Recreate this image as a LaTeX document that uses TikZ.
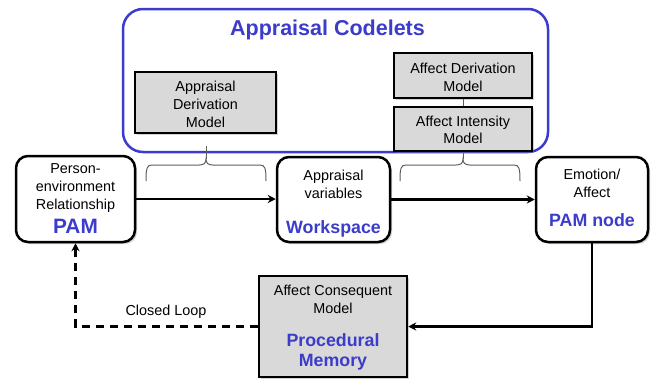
\documentclass[tikz,border=0pt]{standalone}
\usepackage{fontspec}
\setmainfont{Liberation Sans}
\usetikzlibrary{arrows.meta,shadows}
\definecolor{cblue}{RGB}{60,60,204}
\definecolor{boxgray}{RGB}{217,217,217}
\definecolor{bracegray}{RGB}{95,95,95}
\begin{document}
\begin{tikzpicture}[x=1pt,y=-1pt,
  txt/.style={font=\fontsize{14.4}{17}\selectfont, anchor=base, inner sep=0pt},
  btxt/.style={font=\fontsize{17.8}{21}\selectfont\bfseries, text=cblue, anchor=base, inner sep=0pt},
  shad/.style={drop shadow={shadow xshift=2pt,shadow yshift=-2pt,opacity=0.35}},
  rbox/.style={draw=black, line width=2.5pt, fill=white, rounded corners=12pt, inner sep=0pt, shad},
  gbox/.style={draw=black, line width=2.5pt, fill=boxgray, inner sep=0pt, shad},
  conn/.style={line width=2.2pt, -{Stealth[length=8pt,width=8pt]}},
  bracestyle/.style={draw=bracegray, line width=1pt},
]
\useasboundingbox (0,0) rectangle (653,378);
\fill[white] (0,0) rectangle (653,378);

% big codelets container
\node[draw=cblue, line width=2.5pt, rounded corners=20pt, minimum width=425pt, minimum height=143pt, inner sep=0pt] (codelets) at (335.5,80.5) {};
\node[font=\fontsize{21.5}{25}\selectfont\bfseries, text=cblue, anchor=base, inner sep=0pt] (title) at (327.5,35) {Appraisal Codelets};

% gray model boxes
\node[gbox, minimum width=141pt, minimum height=61pt] (adm) at (205.5,102.5) {};
\node[txt] (adm1) at (205.5,91) {Appraisal};
\node[txt] (adm2) at (205.5,109) {Derivation};
\node[txt] (adm3) at (205.5,127) {Model};

\node[gbox, minimum width=138pt, minimum height=45pt] (aderm) at (463,75.5) {};
\node[txt] (aderm1) at (463,73) {Affect Derivation};
\node[txt] (aderm2) at (463,91) {Model};

\node[gbox, minimum width=138pt, minimum height=44pt] (aim) at (463,129) {};
\node[txt] (aim1) at (463,126) {Affect Intensity};
\node[txt] (aim2) at (463,143) {Model};

\draw[draw=bracegray, line width=1pt] (aderm.south) -- (aim.north);

% rounded boxes
\node[rbox, minimum width=119pt, minimum height=86pt] (pam) at (75.5,199) {};
\node[txt] (pam1) at (75.5,173) {Person-};
\node[txt] (pam2) at (75.5,191) {environment};
\node[txt] (pam3) at (75.5,209) {Relationship};
\node[btxt, font=\fontsize{20.8}{24}\selectfont\bfseries] (pam4) at (75.5,233) {PAM};

\node[rbox, minimum width=113pt, minimum height=85pt] (ws) at (333.5,199.5) {};
\node[txt] (ws1) at (333.5,180) {Appraisal};
\node[txt] (ws2) at (333.5,198) {variables};
\node[btxt] (ws3) at (333.5,233) {Workspace};

\node[rbox, minimum width=112pt, minimum height=85pt] (emo) at (592,199.5) {};
\node[txt] (emo1) at (592,179) {Emotion/};
\node[txt] (emo2) at (592,197) {Affect};
\node[btxt] (emo3) at (592,226) {PAM node};

% procedural memory
\node[gbox, minimum width=148pt, minimum height=101pt] (proc) at (333,326.5) {};
\node[txt] (proc1) at (333,295) {Affect Consequent};
\node[txt] (proc2) at (333,313) {Model};
\node[btxt] (proc3) at (333,346) {Procedural};
\node[btxt] (proc4) at (333,366) {Memory};

% braces
\coordinate (tip1) at (206,159);
\coordinate (stem1) at (206,146);
\draw[bracestyle] (146,181) .. controls (146,168) and (147,165) .. (152,165) -- (199,165)
   .. controls (204,165) and (206,163) .. (tip1)
   .. controls (206,163) and (208,165) .. (213,165) -- (260,165)
   .. controls (265,165) and (266,168) .. (266,181);
\draw[bracestyle] (tip1) -- (stem1);

\coordinate (tip2) at (463,159);
\draw[bracestyle] (400,181) .. controls (400,168) and (401,165) .. (406,165) -- (456,165)
   .. controls (461,165) and (463,163) .. (tip2)
   .. controls (463,163) and (465,165) .. (470,165) -- (514,165)
   .. controls (519,165) and (520,168) .. (520,181);
\draw[bracestyle] (tip2) -- (aim.south);

% connectors
\draw[conn] (pam.east) -- (pam.east -| ws.west);
\draw[conn] (ws.east) -- (ws.east -| emo.west);
\draw[conn] (emo.south) |- (proc.east);
\draw[conn, dash pattern=on 8pt off 6pt] (proc.west) -| (pam.south);
\node[txt] (loop) at (166,315) {Closed Loop};
\end{tikzpicture}
\end{document}
